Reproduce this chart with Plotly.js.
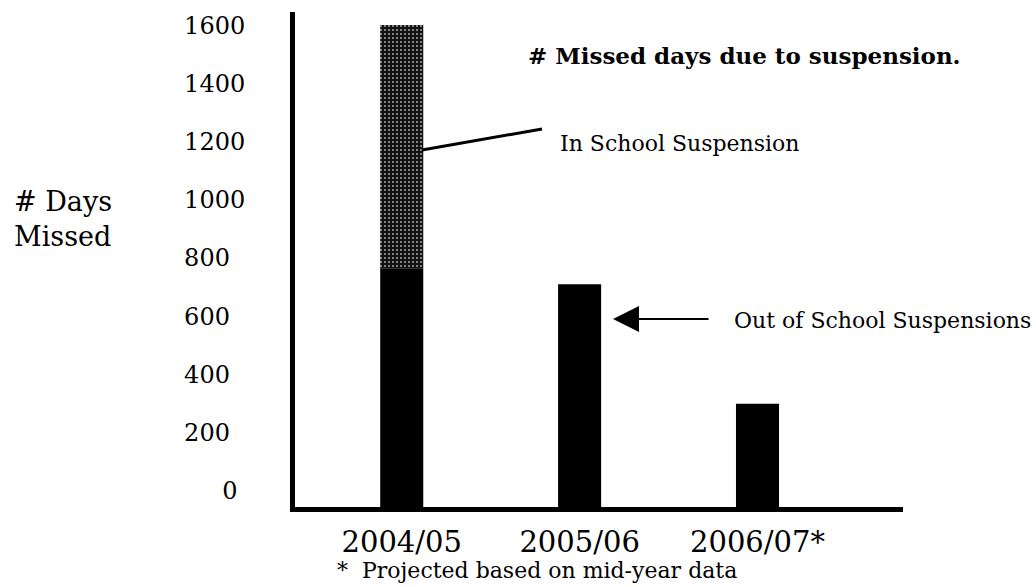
<!DOCTYPE html>
<html>
<head>
<meta charset="utf-8">
<script src="https://cdn.plot.ly/plotly-3.0.1.min.js"></script>
<style>
  html, body { margin: 0; padding: 0; background: #fff; }
  #chart { width: 1036px; height: 587px; }
</style>
</head>
<body>
<div id="chart"></div>
<script>
// values (days missed)
const YEARS         = ["2004/05", "2005/06", "2006/07*"];
const OUT_OF_SCHOOL = [765, 710, 300];
const IN_SCHOOL     = [835, 0, 0];
const Y_TICKS       = [0, 200, 400, 600, 800, 1000, 1200, 1400, 1600];

// the printed "0" sits above the axis line, bars start at the line itself
const AXIS_FLOOR = -55;

const FONT = "DejaVu Serif, Liberation Serif, serif";
const W = 1036, H = 587;
const M = { l: 295, r: 133, t: 12, b: 80 };
const PW = W - M.l - M.r, PH = H - M.t - M.b;
const px = x => (x - M.l) / PW;
const py = y => (H - M.b - y) / PH;

// left-align the labels like the original (pad shorter ones)
const yTickText = Y_TICKS.map(v => v === 0 ? "0\u2008" : v < 1000 ? v + "\u2007" : String(v));

const traces = [
  {
    type: "bar", name: "Out of School Suspensions",
    x: YEARS, y: OUT_OF_SCHOOL.map(v => v - AXIS_FLOOR), base: AXIS_FLOOR,
    width: 0.242,
    marker: { color: "#000", line: { width: 0 } },
    hoverinfo: "skip",
  },
  {
    type: "bar", name: "In School Suspension",
    x: YEARS, y: IN_SCHOOL, base: OUT_OF_SCHOOL,
    width: 0.242,
    marker: {
      color: "#2a2a2a",
      line: { width: 0 },
      pattern: { shape: ".", bgcolor: "#111", fgcolor: "#a0a0a0", size: 4, solidity: 0.22, fillmode: "replace" },
    },
    hoverinfo: "skip",
  },
];

const layout = {
  width: W, height: H,
  margin: M,
  paper_bgcolor: "#fff", plot_bgcolor: "#fff",
  showlegend: false,
  barmode: "overlay",
  font: { family: FONT, color: "#000", size: 22 },
  title: {
    text: "<b># Missed days due to suspension.</b>",
    xref: "container", yref: "container",
    x: 528 / W, xanchor: "left",
    y: 1 - 56 / H, yanchor: "middle",
    font: { family: FONT, size: 23, color: "#000" },
  },
  xaxis: {
    type: "category",
    range: [-0.6, 2.818],
    showline: true, linecolor: "#000", linewidth: 5,
    showgrid: false, zeroline: false, ticks: "",
    tickfont: { family: FONT, size: 29 },
    ticklabelstandoff: 5,
  },
  yaxis: {
    range: [AXIS_FLOOR, 1645],
    showline: true, linecolor: "#000", linewidth: 5,
    showgrid: false, zeroline: false, ticks: "",
    tickvals: Y_TICKS, ticktext: yTickText,
    tickfont: { family: FONT, size: 24 },
    ticklabelstandoff: 40,
  },
  annotations: [
    {
      text: "# Days<br>Missed", xref: "paper", yref: "paper",
      x: px(12), y: py(219), xanchor: "left", yanchor: "middle", align: "left",
      showarrow: false, font: { size: 27 },
    },
    {
      text: "In School Suspension", xref: "paper", yref: "paper",
      x: px(558), y: py(143), xanchor: "left", yanchor: "middle",
      showarrow: false, font: { size: 22 },
    },
    {
      text: "Out of School Suspensions", xref: "paper", yref: "paper",
      x: px(732), y: py(320), xanchor: "left", yanchor: "middle",
      showarrow: false, font: { size: 22 },
    },
    {
      // arrow pointing at the 2005/06 bar
      text: "", xref: "paper", yref: "paper",
      x: px(613), y: py(319), ax: 97, ay: 0, axref: "pixel", ayref: "pixel",
      showarrow: true, arrowhead: 2, arrowsize: 2.6, arrowwidth: 2, arrowcolor: "#000",
    },
    {
      text: "*\u00a0\u00a0Projected based on mid-year data", xref: "paper", yref: "paper",
      x: px(335), y: py(570), xanchor: "left", yanchor: "middle",
      showarrow: false, font: { size: 22 },
    },
  ],
  shapes: [
    {
      type: "line", xref: "paper", yref: "paper",
      x0: px(422), y0: py(150), x1: px(542), y1: py(129),
      line: { color: "#000", width: 3 },
    },
  ],
};

Plotly.newPlot("chart", traces, layout, { displayModeBar: false, staticPlot: true });
</script>
</body>
</html>
